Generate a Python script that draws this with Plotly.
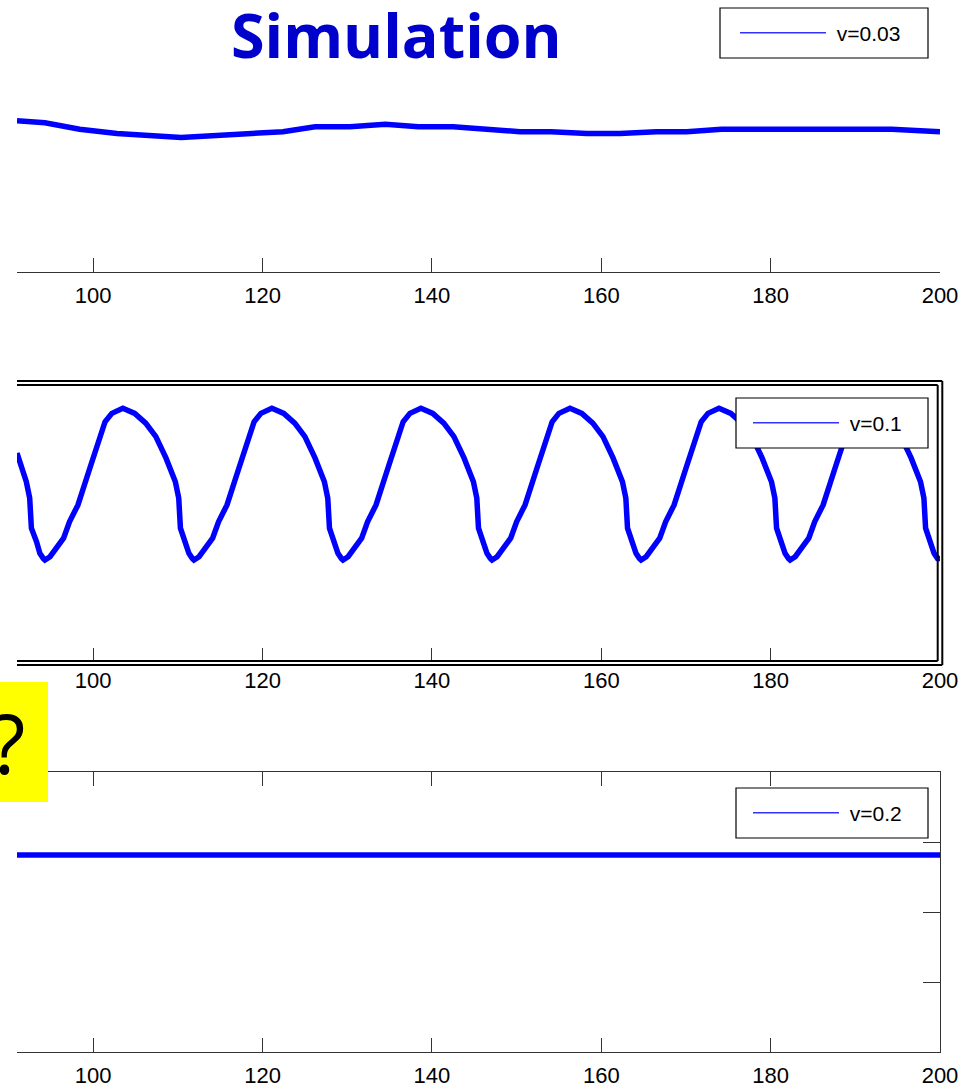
import plotly.graph_objects as go

W, H = 978, 1089

# ---------------- data ----------------
tick_vals = [100, 120, 140, 160, 180, 200]
tick_text = ["100", "120", "140", "160", "180", "200"]

# panel 1 : v = 0.03
x_v003 = [91.0, 94.3, 98.4, 102.8, 110.4, 122.4, 126.2, 130.3, 134.5, 138.4, 142.5,
          145.7, 150.4, 154.1, 158.3, 162.2, 166.5, 170.1, 174.2, 194.3, 198.0, 200.0]
y_v003 = [0.720, 0.711, 0.680, 0.660, 0.641, 0.668, 0.692, 0.692, 0.703, 0.692, 0.692,
          0.680, 0.668, 0.668, 0.660, 0.660, 0.668, 0.668, 0.680, 0.680, 0.668, 0.668]

# panel 2 : v = 0.1
x_v01 = [
    91.0, 92.1, 92.5, 92.7, 93.3, 93.7, 94.1, 94.3, 94.9, 95.3, 96.5, 97.2, 98.2, 99.6, 100.6, 101.4, 102.2, 103.5,
    104.9, 106.2, 107.4, 108.6, 109.7, 110.1, 110.3, 110.9, 111.3, 111.7, 111.9, 112.5, 112.9, 114.1, 114.8, 115.8, 117.2, 118.2, 119.0, 119.8, 121.1,
    122.5, 123.8, 125.0, 126.2, 127.3, 127.7, 127.9, 128.5, 128.9, 129.3, 129.5, 130.1, 130.5, 131.7, 132.4, 133.4, 134.8, 135.8, 136.6, 137.4, 138.7,
    140.1, 141.4, 142.6, 143.8, 144.9, 145.3, 145.5, 146.1, 146.5, 146.9, 147.1, 147.7, 148.1, 149.3, 150.0, 151.0, 152.4, 153.4, 154.2, 155.0, 156.3,
    157.7, 159.0, 160.2, 161.4, 162.5, 162.9, 163.1, 163.7, 164.1, 164.5, 164.7, 165.3, 165.7, 166.9, 167.6, 168.6, 170.0, 171.0, 171.8, 172.6, 173.9,
    175.3, 176.6, 177.8, 179.0, 180.1, 180.5, 180.7, 181.3, 181.7, 182.1, 182.3, 182.9, 183.3, 184.5, 185.2, 186.2, 187.6, 188.6, 189.4, 190.2, 191.5,
    192.9, 194.2, 195.4, 196.6, 197.7, 198.1, 198.3, 198.9, 199.3, 199.7, 200.0,
]
y_v01 = [
    0.746, 0.644, 0.585, 0.478, 0.430, 0.388, 0.370, 0.364, 0.376, 0.394, 0.442, 0.501, 0.561, 0.692, 0.787, 0.858, 0.888, 0.906,
    0.888, 0.853, 0.805, 0.728, 0.644, 0.585, 0.478, 0.430, 0.388, 0.370, 0.364, 0.376, 0.394, 0.442, 0.501, 0.561, 0.692, 0.787, 0.858, 0.888, 0.906,
    0.888, 0.853, 0.805, 0.728, 0.644, 0.585, 0.478, 0.430, 0.388, 0.370, 0.364, 0.376, 0.394, 0.442, 0.501, 0.561, 0.692, 0.787, 0.858, 0.888, 0.906,
    0.888, 0.853, 0.805, 0.728, 0.644, 0.585, 0.478, 0.430, 0.388, 0.370, 0.364, 0.376, 0.394, 0.442, 0.501, 0.561, 0.692, 0.787, 0.858, 0.888, 0.906,
    0.888, 0.853, 0.805, 0.728, 0.644, 0.585, 0.478, 0.430, 0.388, 0.370, 0.364, 0.376, 0.394, 0.442, 0.501, 0.561, 0.692, 0.787, 0.858, 0.888, 0.906,
    0.888, 0.853, 0.805, 0.728, 0.644, 0.585, 0.478, 0.430, 0.388, 0.370, 0.364, 0.376, 0.394, 0.442, 0.501, 0.561, 0.692, 0.787, 0.858, 0.888, 0.906,
    0.888, 0.853, 0.805, 0.728, 0.644, 0.585, 0.478, 0.430, 0.388, 0.370, 0.370,
]

# panel 3 : v = 0.2
x_v02 = [91.0, 100.0, 120.0, 140.0, 160.0, 180.0, 200.0]
y_v02 = [1.407, 1.407, 1.407, 1.407, 1.407, 1.407, 1.407]

series_names = ["v=0.03", "v=0.1", "v=0.2"]

# ---------------- layout helpers ----------------
def px(p):
    return p / W


def py(p):
    return 1 - p / H


BLUE = "#0000FF"
AX = "#333333"
TICKFONT = dict(family="Liberation Sans, Arial", size=22, color="black")
X_DOMAIN = [px(17), px(940)]

fig = go.Figure()

# data traces
fig.add_trace(go.Scatter(x=x_v003, y=y_v003, mode="lines", line=dict(color=BLUE, width=5.5),
                         xaxis="x", yaxis="y", showlegend=False))
fig.add_trace(go.Scatter(x=x_v01, y=y_v01, mode="lines", line=dict(color=BLUE, width=5.5),
                         xaxis="x2", yaxis="y2", showlegend=False))
fig.add_trace(go.Scatter(x=x_v02, y=y_v02, mode="lines", line=dict(color=BLUE, width=5.5),
                         xaxis="x3", yaxis="y3", showlegend=False))

# legend-only entries (thin line sample like the original)
for name, xa, ya, lg in zip(series_names, ["x", "x2", "x3"], ["y", "y2", "y3"],
                            ["legend", "legend2", "legend3"]):
    fig.add_trace(go.Scatter(x=[None], y=[None], mode="lines", name="\u00a0" + name,
                             line=dict(color="#3333FF", width=1.5),
                             xaxis=xa, yaxis=ya, legend=lg, showlegend=True))

xcommon = dict(range=[91, 200], domain=X_DOMAIN, tickvals=tick_vals, ticktext=tick_text,
               ticks="inside", ticklen=14, tickwidth=1, tickcolor=AX, showgrid=False,
               zeroline=False, tickfont=TICKFONT, ticklabelstandoff=3, automargin=False)

fig.update_layout(
    width=W, height=H, autosize=False,
    margin=dict(l=0, r=0, t=0, b=0, pad=0),
    paper_bgcolor="white", plot_bgcolor="white",
    xaxis=dict(**xcommon, anchor="y", showline=True, linecolor=AX, linewidth=1.2),
    yaxis=dict(domain=[py(272), py(62)], range=[0, 1], visible=False, anchor="x",
               automargin=False),
    xaxis2=dict(**xcommon, anchor="y2", showline=False),
    yaxis2=dict(domain=[py(662), py(382)], range=[0, 1], visible=False, anchor="x2",
                automargin=False),
    xaxis3=dict(**xcommon, anchor="y3", showline=True, linecolor=AX, linewidth=1.2, mirror="ticks"),
    yaxis3=dict(domain=[py(1052), py(772)], range=[0, 2], anchor="x3", side="right",
                showline=True, linecolor=AX, linewidth=1.2, ticks="inside", ticklen=17,
                tickcolor=AX, tickvals=[0.5, 1.0, 1.5], showticklabels=False,
                showgrid=False, zeroline=False, automargin=False),
)

legend_style = dict(bgcolor="rgba(0,0,0,0)", borderwidth=0, itemwidth=86,
                    font=dict(family="Liberation Sans, Arial", size=21, color="black"),
                    xanchor="left", yanchor="middle", xref="paper", yref="paper",
                    tracegroupgap=0)
fig.update_layout(
    legend=dict(**legend_style, x=px(735), y=py(33)),
    legend2=dict(**legend_style, x=px(748), y=py(423)),
    legend3=dict(**legend_style, x=px(748), y=py(813)),
)

shapes = []
# double border around the middle panel
line_k = dict(color="black", width=2)
for (x0, x1, y0, y1) in [
    (17, 942.3, 381, 381), (17, 937.7, 385, 385),
    (17, 942.3, 665, 665), (17, 937.7, 661, 661),
    (942.3, 942.3, 381, 665), (937.7, 937.7, 385, 661),
]:
    shapes.append(dict(type="line", xref="paper", yref="paper", x0=px(x0), x1=px(x1),
                       y0=py(y0), y1=py(y1), line=line_k, layer="above"))
# legend boxes
for (x0, x1, y0, y1) in [(720, 928, 8, 58), (736, 928, 398, 448), (736, 928, 788, 838)]:
    shapes.append(dict(type="rect", xref="paper", yref="paper", x0=px(x0), x1=px(x1),
                       y0=py(y1), y1=py(y0), fillcolor="white",
                       line=dict(color="black", width=1.2), layer="above"))
# yellow note box
shapes.append(dict(type="rect", xref="paper", yref="paper", x0=px(0), x1=px(48),
                   y0=py(802), y1=py(682), fillcolor="#FFFF00", line=dict(width=0), layer="above"))
fig.update_layout(shapes=shapes)

fig.add_annotation(text="<b>Simulation</b>", xref="paper", yref="paper", x=px(396), y=py(35),
                   xanchor="center", yanchor="middle", showarrow=False,
                   font=dict(family="Open Sans", size=61, color="#0000CC"))
fig.add_annotation(text="?", xref="paper", yref="paper", x=px(7), y=py(742),
                   xanchor="center", yanchor="middle", showarrow=False,
                   font=dict(family="Open Sans", size=82, color="black"))

fig.write_html(
    "out.html",
    config={"displayModeBar": False},
    post_script=("document.body.style.margin='0px';"
                 "document.body.style.overflow='hidden';"
                 "document.documentElement.style.overflow='hidden';"),
)
